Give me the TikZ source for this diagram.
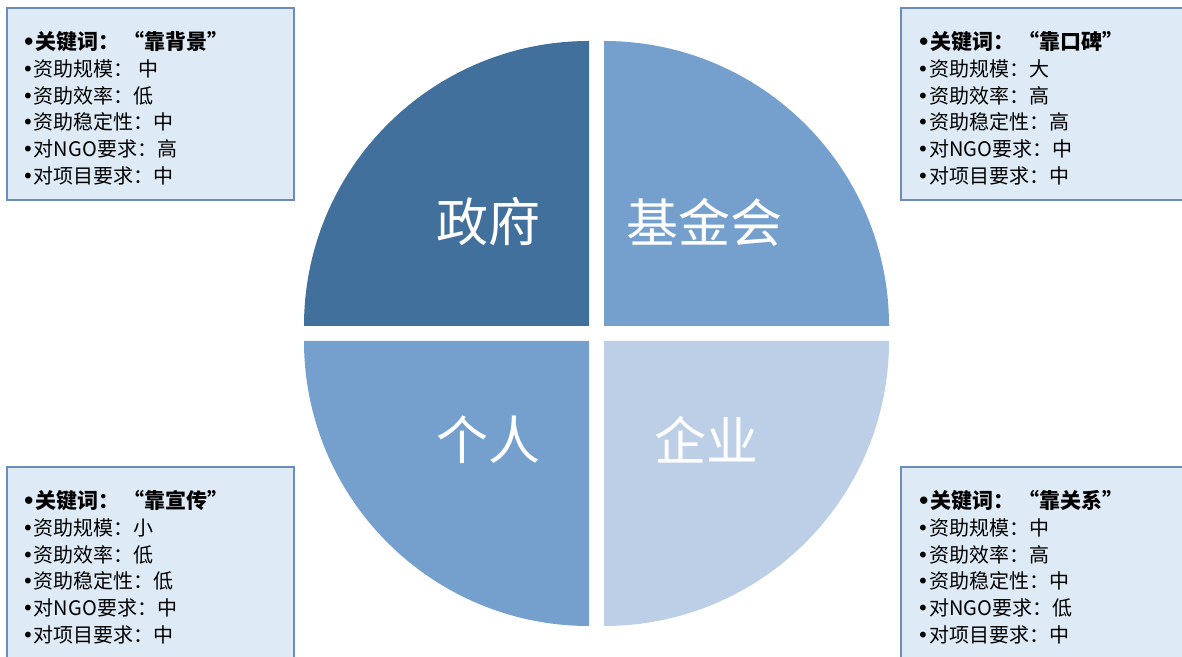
\documentclass[tikz,border=0pt]{standalone}
\usepackage{fontspec}
\setmainfont{Noto Sans CJK SC}
\newfontfamily\bulletfont{DejaVu Sans}
\definecolor{qdark}{RGB}{65,112,156}
\definecolor{qmid}{RGB}{117,160,206}
\definecolor{qlight}{RGB}{188,207,231}
\definecolor{boxfill}{RGB}{222,234,246}
\definecolor{boxline}{RGB}{106,140,190}
\newcommand{\bul}{{\bulletfont •}}
\newcommand{\keyline}[1]{{\fontsize{21}{26.8}\selectfont\textbf{\bul 关键词：\,#1}}}
\tikzset{
  infobox/.style={fill=boxfill,draw=boxline,line width=1.3pt},
  infotext/.style={anchor=north west,inner sep=0pt,align=left,font=\fontsize{20}{26.8}\selectfont},
  qlabel/.style={text=white,font=\fontsize{52}{60}\selectfont,inner sep=0pt}
}
\begin{document}
\begin{tikzpicture}[x=1pt,y=1pt]
\useasboundingbox (0,0) rectangle (1182,656);
\fill[white] (0,0) rectangle (1182,656);
% pie quadrants
\fill[qdark] (589,330) -- (304,330) arc[start angle=180,end angle=90,radius=285pt] -- cycle;
\fill[qmid] (604,330) -- (604,615) arc[start angle=90,end angle=0,radius=285pt] -- cycle;
\fill[qmid] (589,315) -- (589,30) arc[start angle=270,end angle=180,radius=285pt] -- cycle;
\fill[qlight] (604,315) -- (889,315) arc[start angle=0,end angle=-90,radius=285pt] -- cycle;
\node[qlabel] (gov) at (488,434) {政府};
\node[qlabel] (fund) at (704,434) {基金会};
\node[qlabel] (ind) at (488,216) {个人};
\node[qlabel] (corp) at (706,216) {企业};
% boxes
\draw[infobox] (7,648) rectangle (294,456);
\draw[infobox] (901,648) rectangle (1192,456);
\draw[infobox] (7,189) rectangle (294,-10);
\draw[infobox] (901,189) rectangle (1192,-10);
\node[infotext] (t1) at (22,625) {\keyline{“靠背景”}\\\bul 资助规模： 中\\\bul 资助效率：低\\\bul 资助稳定性：中\\\bul 对NGO要求：高\\\bul 对项目要求：中};
\node[infotext] (t2) at (917,625) {\keyline{“靠口碑”}\\\bul 资助规模：大\\\bul 资助效率：高\\\bul 资助稳定性：高\\\bul 对NGO要求：中\\\bul 对项目要求：中};
\node[infotext] (t3) at (22,166) {\keyline{“靠宣传”}\\\bul 资助规模：小\\\bul 资助效率：低\\\bul 资助稳定性：低\\\bul 对NGO要求：中\\\bul 对项目要求：中};
\node[infotext] (t4) at (917,166) {\keyline{“靠关系”}\\\bul 资助规模：中\\\bul 资助效率：高\\\bul 资助稳定性：中\\\bul 对NGO要求：低\\\bul 对项目要求：中};
\end{tikzpicture}
\end{document}
